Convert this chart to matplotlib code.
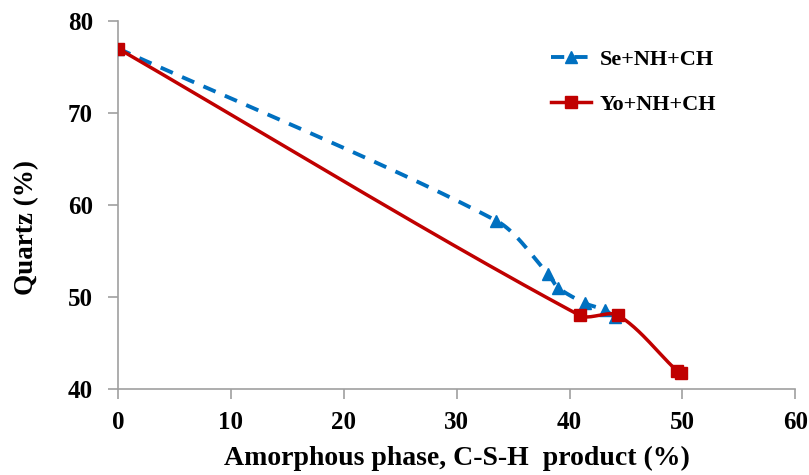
import matplotlib
matplotlib.use("Agg")
import matplotlib.pyplot as plt
import numpy as np

# values
se_x = [0.0, 33.5, 38.1, 39.0, 41.4, 43.1, 44.0]
se_y = [77.0, 58.3, 52.5, 51.0, 49.3, 48.6, 47.8]
yo_x = [0.0, 40.9, 44.3, 49.5, 49.9]
yo_y = [77.0, 48.0, 48.0, 42.0, 41.7]

x_ticks = [0, 10, 20, 30, 40, 50, 60]
y_ticks = [40, 50, 60, 70, 80]


def smooth(xs, ys, n=40, sx=11.28, sy=9.2, k=0.3):
    """Bezier smoothing through the points, roughly like Excel's smoothed line.
    Tangent direction from the neighbours, handle length from the segment."""
    p = np.column_stack([np.asarray(xs) * sx, np.asarray(ys) * sy])
    m = len(p)
    d = np.zeros_like(p)
    for i in range(m):
        v = p[min(i + 1, m - 1)] - p[max(i - 1, 0)]
        d[i] = v / np.linalg.norm(v)
    t = np.linspace(0, 1, n)[:, None]
    out = []
    for i in range(m - 1):
        a, b = p[i], p[i + 1]
        L = np.linalg.norm(b - a)
        c1 = a + d[i] * L * k
        c2 = b - d[i + 1] * L * k
        seg = ((1 - t) ** 3 * a + 3 * (1 - t) ** 2 * t * c1
               + 3 * (1 - t) * t ** 2 * c2 + t ** 3 * b)
        out.append(seg if i == 0 else seg[1:])
    out = np.vstack(out)
    return out[:, 0] / sx, out[:, 1] / sy


plt.rcParams["font.family"] = "Liberation Serif"
plt.rcParams["font.weight"] = "bold"

fig = plt.figure(figsize=(8.09, 4.75), dpi=100)
ax = fig.add_axes([0.146, 0.181, 0.837, 0.775])

blue = "#0070C0"
red = "#C00000"
dash = (0, (3.4, 2.6))

sx, sy = smooth(se_x, se_y)
ax.plot(sx, sy, color=blue, lw=2.8, ls=dash, zorder=2)
ax.plot(se_x, se_y, ls="none", marker="^", ms=9, color=blue, zorder=3)
ax.plot([], [], color=blue, lw=2.8, ls=dash, marker="^", ms=9,
        label="Se+NH+CH")

rx, ry = smooth(yo_x, yo_y)
ax.plot(rx, ry, color=red, lw=2.5, zorder=4)
ax.plot(yo_x, yo_y, ls="none", marker="s", ms=9, color=red, zorder=5)
ax.plot([], [], color=red, lw=2.5, marker="s", ms=9, label="Yo+NH+CH")

ax.set_xlim(0, 60)
ax.set_ylim(40, 80)
ax.set_xticks(x_ticks)
ax.set_yticks(y_ticks)
for s in ["top", "right"]:
    ax.spines[s].set_visible(False)
for s in ["left", "bottom"]:
    ax.spines[s].set_color("#A0A0A0")
    ax.spines[s].set_linewidth(1.2)
ax.tick_params(direction="out", length=7, width=1.2, color="#A0A0A0",
               labelsize=18)
ax.tick_params(axis="y", pad=11)
ax.tick_params(axis="x", pad=9)
for lab in ax.get_xticklabels() + ax.get_yticklabels():
    lab.set_fontweight("bold")

ax.set_xlabel("Amorphous phase, C-S-H  product (%)", fontsize=20,
              fontweight="bold", labelpad=8)
ax.set_ylabel("Quartz (%)", fontsize=19.5, fontweight="bold")
ax.yaxis.set_label_coords(-0.117, 0.4375)

ax.legend(loc="upper left", bbox_to_anchor=(0.61, 0.978), frameon=False,
          handlelength=1.8, handletextpad=0.4, labelspacing=1.1,
          prop={"weight": "bold", "size": 16})

fig.savefig("out.png", dpi=100)
